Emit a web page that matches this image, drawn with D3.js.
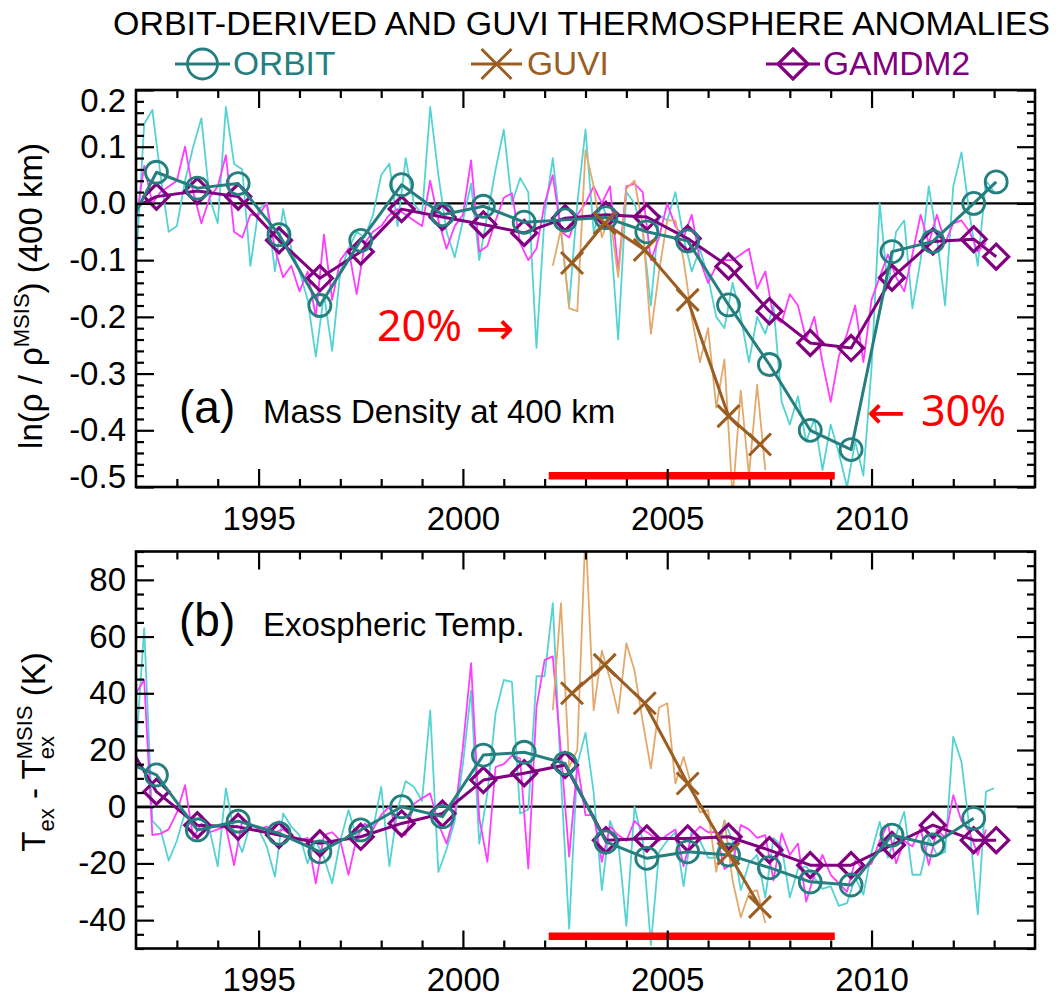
<!DOCTYPE html>
<html>
<head>
<meta charset="utf-8">
<script src="https://cdn.jsdelivr.net/npm/d3@7"></script>
<style>
  body { margin: 0; background: #fff; }
</style>
</head>
<body>
<div id="chart"></div>
<script>
// ---------- data ----------
var xDomain = [1992, 2014];
var yearTicks = [1995, 2000, 2005, 2010];

// yearly means (a) ln(rho / rhoMSIS)
var orbitYearsA = [1991.5, 1992.5, 1993.5, 1994.5, 1995.5, 1996.5, 1997.5, 1998.5, 1999.5, 2000.5, 2001.5,
                   2002.5, 2003.5, 2004.5, 2005.5, 2006.5, 2007.5, 2008.5, 2009.5, 2010.5, 2011.5, 2012.5, 2013.05];
var orbitA = [-0.085, 0.055, 0.027, 0.035, -0.055, -0.18, -0.065, 0.033, -0.02, -0.005, -0.033,
              -0.029, -0.025, -0.05, -0.066, -0.179, -0.284, -0.40, -0.434, -0.085, -0.067, 0.0, 0.038];
var gamdmYearsA = orbitYearsA;
var gamdmA = [-0.023, 0.012, 0.022, 0.012, -0.065, -0.132, -0.085, -0.01, -0.024, -0.037, -0.052,
              -0.026, -0.02, -0.024, -0.062, -0.111, -0.19, -0.246, -0.255, -0.131, -0.067, -0.063, -0.094];
var guviYears = [2002.67, 2003.47, 2004.45, 2005.5, 2006.5, 2007.27];
var guviA = [-0.105, -0.035, -0.082, -0.17, -0.375, -0.425];

// yearly means (b) Tex - TexMSIS
var orbitYearsB = [1991.5, 1992.5, 1993.5, 1994.5, 1995.5, 1996.5, 1997.5, 1998.5, 1999.5, 2000.5, 2001.5,
                   2002.5, 2003.5, 2004.5, 2005.5, 2006.5, 2007.5, 2008.5, 2009.5, 2010.5, 2011.5, 2012.5];
var orbitB = [17.2, 11.2, -8.2, -5.1, -9.4, -15.9, -8.2, 0, -3.5, 18.2, 19.2,
              15.3, -12.4, -18.2, -15.9, -17.0, -21.5, -26.5, -27.6, -10, -13.5, -4.1];
var gamdmYearsB = orbitYearsA;
var gamdmB = [29.4, 5.3, -6.5, -7.1, -10, -12.9, -10.6, -5.9, -2.4, 9.4, 11.8,
              14.7, -11.8, -11.2, -11.2, -10.6, -15.3, -20.6, -20.6, -13.5, -6.5, -11.8, -11.8];
var guviB = [40, 50, 36.5, 8.2, -16.5, -35.3];

// short-interval values (every 0.2 yr)
var rawStep = 0.2;
var rawStart = 1992.0;
var guviRawStart = 2002.2;

var orbitRawA = [
  -0.11, 0.14, 0.165, 0.05, -0.05,
  -0.04, 0.04, 0.10, 0.15, 0.01,
  -0.035, 0.17, 0.07, 0.06, -0.11,
  -0.01, 0.0, -0.12, -0.01, -0.08,
  -0.12, -0.17, -0.27, -0.16, -0.26,
  -0.12, -0.08, -0.05, -0.06, -0.02,
  0.05, 0.07, -0.04, 0.08, 0.0,
  -0.02, 0.17, 0.05, -0.05, -0.095,
  -0.03, 0.035, -0.1, -0.02, 0.06,
  0.13, 0.0, 0.045, 0.02, -0.255,
  -0.02, 0.08, -0.05, -0.18, 0.0,
  0.13, -0.05, 0.0, -0.04, -0.24,
  0.02, 0.0, -0.05, -0.18, -0.02,
  -0.03, 0.02, -0.06, -0.12, -0.08,
  -0.13, -0.2, -0.22, -0.14, -0.2,
  -0.28, -0.2, -0.23, -0.18, -0.35,
  -0.39, -0.34, -0.42, -0.38, -0.47,
  -0.39, -0.44, -0.5, -0.42, -0.48,
  -0.29, 0.0, -0.15, -0.05, -0.03,
  -0.185, -0.1, 0.03, -0.06, -0.18,
  0.03, 0.09, -0.02, -0.11, 0.04,
  0.02];
var gamdmRawA = [
  -0.03, 0.066, 0.0, 0.02, 0.03,
  0.04, 0.10, 0.02, -0.035, 0.01,
  0.03, 0.085, -0.05, -0.06, -0.02,
  -0.02, 0.0, -0.08, -0.13, -0.11,
  -0.155, -0.12, -0.2, -0.055, -0.17,
  -0.1, -0.08, -0.16, -0.07, -0.05,
  -0.04, -0.02, -0.01, -0.02, -0.03,
  -0.04, 0.04, -0.03, -0.08, -0.04,
  -0.02, 0.076, -0.085, -0.075, -0.03,
  0.01, 0.018, -0.07, -0.1, -0.08,
  0.0, 0.05, -0.05, -0.06, -0.02,
  0.0, 0.03, 0.0, 0.03, -0.12,
  0.03, 0.035, 0.02, -0.1, -0.06,
  0.0, -0.04, -0.06, -0.02, -0.1,
  -0.14, -0.11, -0.1, -0.1, -0.09,
  -0.08, -0.15, -0.12, -0.2, -0.21,
  -0.16, -0.18, -0.24, -0.2, -0.28,
  -0.35, -0.27, -0.23, -0.18, -0.28,
  -0.17, -0.13, -0.09, -0.13, -0.155,
  -0.09, -0.02, -0.07, -0.02, -0.07,
  -0.035, -0.03, -0.05, -0.085, -0.07];
var guviRawA = [-0.11, -0.045, -0.185, -0.19, 0.094, 0.03, -0.06, -0.02, -0.13, 0.026,
                0.04, -0.04, -0.23, -0.12, -0.03, -0.03, -0.1, -0.2, -0.28, -0.22,
                -0.36, -0.275, -0.52, -0.33, -0.48, -0.32, -0.47];

var orbitRawB = [
  20, 63, -5, -8, -19,
  -12, -2, -6, -3, -8,
  -21, 6.5, -9, -16, -6,
  -8, -14, -24.7, -2.4, -7,
  -10, -20, -12, -18, -27,
  -12, -1.2, -11, -6, -8,
  7, -21, -1, 9, 7,
  2, 34, -23, -15, -5,
  15, 41, -13, 5, 33,
  44.7, 44, -2.4, -1, 46,
  46, 71.8, 10, -43, 15,
  26, 5, -29.4, -5, -12,
  -42, 0, -12, -48.8, -16,
  -12, -9, -28, -8, -12,
  -18, -18, -5, -12, -29.4,
  -20, -17, -32, -11, -14,
  -32, -22, -21, -25, -29,
  -28, -35, -34, -25, -31,
  -16, -5.3, -18, -10, -1.8,
  -24, -24, -11, -17, -16,
  24.7, 15.9, -8, -38, 5.3,
  6.5];
var gamdmRawB = [
  40, 44.7, -10, -9.5, -8,
  -2, 7.6, -11, -6, -9,
  -8, -7, -20.6, -5, -6,
  -8, -7, -9, -8, -10,
  -12, -11, -27, -10, -9,
  -12, -24, -11, -6, -8,
  -3, 0, -9, -10, 1,
  3, 4.7, -6, -13, -3,
  21, 50.6, -4, -19.4, 14,
  15, 18, 17, -21.8, 35,
  51.8, 53, 19, -17.6, 15,
  -3, -3, -19.4, -7, -10,
  -12, -5, -8, -10, -12,
  -10, -8, -21, -10, -7,
  -9, -9, -22, -20, -6.5,
  -8, -11, -10, -26, -9.4,
  -17, -13, -33.5, -24, -17,
  -24, -27, -30, -19, -22,
  -20, -12, -6, -20, -12,
  -14, -7.6, -20.6, -8, -11,
  4.1, -5, -9, -17, -8];
var guviRawB = [34, 71.8, 14, 20, 97.6, 34, 55, 45, 33, 57.6,
                48, 30, 13.5, 35, 36.5, 8.2, 17.6, 7, -2, -1.2,
                -23, -4.7, -26, -39, -30.5, -29.4, -41];

// red bar (years) and its level in each panel
var barYears = [2002.1, 2009.1];

var tickLabelsA = [0.2, 0.1, 0.0, -0.1, -0.2, -0.3, -0.4, -0.5];
var tickLabelsB = [80, 60, 40, 20, 0, -20, -40];

// ---------- styles ----------
var col = {
  orbit: "#267f7f", orbitRaw: "#55d3d3",
  gamdm: "#800080", gamdmRaw: "#ff3cff",
  guvi: "#9b5e22", guviRaw: "#e3a96c",
  red: "#ff0000"
};
var FONT = "'Liberation Sans', Arial, Helvetica, sans-serif";

var svg = d3.select("#chart")
  .append("svg")
    .attr("width", 1058)
    .attr("height", 997)
    .style("font-family", FONT);

var x = d3.scaleLinear().domain(xDomain).range([136, 1035]);

// title + legend
svg.append("text")
  .attr("x", 113).attr("y", 35)
  .attr("font-size", 34)
  .attr("textLength", 937).attr("lengthAdjust", "spacingAndGlyphs")
  .text("ORBIT-DERIVED AND GUVI THERMOSPHERE ANOMALIES");

var legend = [
  {name: "ORBIT", color: col.orbit, sym: "circle", x0: 175, x1: 230, tx: 233},
  {name: "GUVI", color: col.guvi, sym: "x", x0: 471, x1: 522, tx: 527},
  {name: "GAMDM2", color: col.gamdm, sym: "diamond", x0: 766, x1: 820, tx: 823}
];
legend.forEach(function(d) {
  var cx = (d.x0 + d.x1) / 2, cy = 64;
  svg.append("line").attr("x1", d.x0).attr("x2", d.x1).attr("y1", cy).attr("y2", cy)
    .attr("stroke", d.color).attr("stroke-width", 3);
  drawMarker(svg, d.sym, cx, cy, 15, d.color);
  svg.append("text").attr("x", d.tx).attr("y", 75).attr("font-size", 33.5)
    .attr("fill", d.color).text(d.name);
});

function drawMarker(sel, sym, cx, cy, s, color) {
  if (sym === "circle") {
    sel.append("circle").attr("cx", cx).attr("cy", cy).attr("r", s)
      .attr("fill", "none").attr("stroke", color).attr("stroke-width", 2.8);
  } else if (sym === "diamond") {
    sel.append("path")
      .attr("d", "M" + cx + "," + (cy - s) + "L" + (cx + s) + "," + cy + "L" + cx + "," + (cy + s) + "L" + (cx - s) + "," + cy + "Z")
      .attr("fill", "none").attr("stroke", color).attr("stroke-width", 3.2);
  } else {
    sel.append("path")
      .attr("d", "M" + (cx - s) + "," + (cy - s) + "L" + (cx + s) + "," + (cy + s) + "M" + (cx - s) + "," + (cy + s) + "L" + (cx + s) + "," + (cy - s))
      .attr("stroke", color).attr("stroke-width", 3);
  }
}

makePanel({
  id: "a", top: 90, bottom: 487, yDomain: [-0.5, 0.2],
  ticks: tickLabelsA, minor: d3.range(-25, 11).map(function(i) { return i * 0.02; }),
  fmt: function(d) { return d.toFixed(1); },
  xPad: 20,
  orbitRaw: orbitRawA, gamdmRaw: gamdmRawA, guviRaw: guviRawA,
  orbitYears: orbitYearsA, orbit: orbitA, gamdmYears: gamdmYearsA, gamdm: gamdmA, guvi: guviA,
  barLevel: -0.48
});

makePanel({
  id: "b", top: 551.5, bottom: 948.5, yDomain: [-50, 90],
  ticks: tickLabelsB, minor: d3.range(-10, 19).map(function(i) { return i * 5; }),
  fmt: function(d) { return String(d); },
  xPad: 19,
  orbitRaw: orbitRawB, gamdmRaw: gamdmRawB, guviRaw: guviRawB,
  orbitYears: orbitYearsB, orbit: orbitB, gamdmYears: gamdmYearsB, gamdm: gamdmB, guvi: guviB,
  barLevel: -45.7
});

function makePanel(p) {
  var y = d3.scaleLinear().domain(p.yDomain).range([p.bottom, p.top]);
  var left = x.range()[0], right = x.range()[1];
  var g = svg.append("g");

  g.append("clipPath").attr("id", "clip-" + p.id)
    .append("rect")
      .attr("x", left).attr("y", p.top)
      .attr("width", right - left).attr("height", p.bottom - p.top);

  // zero line
  g.append("line")
    .attr("x1", left).attr("x2", right)
    .attr("y1", y(0)).attr("y2", y(0))
    .attr("stroke", "#000").attr("stroke-width", 2.2);

  var plot = g.append("g").attr("clip-path", "url(#clip-" + p.id + ")");
  var line = d3.line().x(function(d) { return x(d.t); }).y(function(d) { return y(d.v); });

  function thin(start, vals, color) {
    var pts = vals.map(function(v, i) { return {t: start + i * rawStep, v: v}; });
    plot.append("path").datum(pts)
      .attr("d", line).attr("fill", "none")
      .attr("stroke", color).attr("stroke-width", 1.8)
      .attr("stroke-linejoin", "round");
  }
  thin(rawStart, p.orbitRaw, col.orbitRaw);
  thin(rawStart, p.gamdmRaw, col.gamdmRaw);
  thin(guviRawStart, p.guviRaw, col.guviRaw);

  function thick(years, vals, color, sym, size) {
    var pts = vals.map(function(v, i) { return {t: years[i], v: v}; });
    plot.append("path").datum(pts)
      .attr("d", line).attr("fill", "none")
      .attr("stroke", color).attr("stroke-width", 3)
      .attr("stroke-linejoin", "round");
    pts.forEach(function(d) { drawMarker(plot, sym, x(d.t), y(d.v), size, color); });
  }
  thick(p.gamdmYears, p.gamdm, col.gamdm, "diamond", 12.5);
  thick(p.orbitYears, p.orbit, col.orbit, "circle", 11);
  thick(guviYears, p.guvi, col.guvi, "x", 11);

  // red bar
  g.append("line")
    .attr("x1", x(barYears[0])).attr("x2", x(barYears[1]))
    .attr("y1", y(p.barLevel)).attr("y2", y(p.barLevel))
    .attr("stroke", col.red).attr("stroke-width", 7.5);

  // axes, all ticks pointing inward
  var minorYears = d3.range(1993, 2014).filter(function(d) { return yearTicks.indexOf(d) < 0; });
  var minorY = p.minor.filter(function(d) {
    return !p.ticks.some(function(t) { return Math.abs(t - d) < 1e-9; });
  });

  function styleAxis(a) {
    a.select(".domain").remove();
    a.selectAll(".tick line").attr("stroke", "#000").attr("stroke-width", 2.2);
    a.attr("font-size", 33).attr("font-family", FONT);
  }

  g.append("g").attr("transform", "translate(0," + p.bottom + ")")
    .call(d3.axisBottom(x).tickValues(yearTicks).tickSize(-18).tickPadding(p.xPad).tickFormat(d3.format("d")))
    .call(styleAxis);
  g.append("g").attr("transform", "translate(0," + p.bottom + ")")
    .call(d3.axisBottom(x).tickValues(minorYears).tickSize(-8).tickFormat(""))
    .call(styleAxis);
  g.append("g").attr("transform", "translate(0," + p.top + ")")
    .call(d3.axisTop(x).tickValues(yearTicks).tickSize(-18).tickFormat(""))
    .call(styleAxis);
  g.append("g").attr("transform", "translate(0," + p.top + ")")
    .call(d3.axisTop(x).tickValues(minorYears).tickSize(-8).tickFormat(""))
    .call(styleAxis);

  var yl = g.append("g").attr("transform", "translate(" + left + ",0)")
    .call(d3.axisLeft(y).tickValues(p.ticks).tickSize(-18).tickPadding(10).tickFormat(p.fmt))
    .call(styleAxis);
  // keep the end labels inside the frame
  yl.selectAll(".tick text").attr("y", function(d) {
    var yy = y(d);
    var c = Math.min(Math.max(yy, p.top + 10.5), p.bottom - 10);
    return c - yy;
  });
  g.append("g").attr("transform", "translate(" + left + ",0)")
    .call(d3.axisLeft(y).tickValues(minorY).tickSize(-8).tickFormat(""))
    .call(styleAxis);
  g.append("g").attr("transform", "translate(" + right + ",0)")
    .call(d3.axisRight(y).tickValues(p.ticks).tickSize(-18).tickFormat(""))
    .call(styleAxis);
  g.append("g").attr("transform", "translate(" + right + ",0)")
    .call(d3.axisRight(y).tickValues(minorY).tickSize(-8).tickFormat(""))
    .call(styleAxis);

  // frame
  g.append("rect")
    .attr("x", left).attr("y", p.top)
    .attr("width", right - left).attr("height", p.bottom - p.top)
    .attr("fill", "none").attr("stroke", "#000").attr("stroke-width", 2.6);
}

// panel labels
svg.append("text").attr("x", 179).attr("y", 423).attr("font-size", 46).text("(a)");
svg.append("text").attr("x", 263).attr("y", 423).attr("font-size", 33).text("Mass Density at 400 km");
svg.append("text").attr("x", 179).attr("y", 636).attr("font-size", 46).text("(b)");
svg.append("text").attr("x", 263).attr("y", 636).attr("font-size", 33).text("Exospheric Temp.");

// red notes
svg.append("text").attr("x", 377).attr("y", 341).attr("font-size", 43)
  .attr("font-family", "'Noto Sans', sans-serif").attr("fill", col.red).text("20%");
svg.append("text").attr("x", 476).attr("y", 344).attr("font-size", 46)
  .attr("font-family", "'DejaVu Sans', sans-serif").attr("fill", col.red).text("\u2192");
svg.append("text").attr("x", 921).attr("y", 426).attr("font-size", 43)
  .attr("font-family", "'Noto Sans', sans-serif").attr("fill", col.red).text("30%");
svg.append("text").attr("x", 867).attr("y", 428).attr("font-size", 46)
  .attr("font-family", "'DejaVu Sans', sans-serif").attr("fill", col.red).text("\u2190");

// y axis titles
var ya = svg.append("text")
  .attr("transform", "translate(42,296) rotate(-90)")
  .attr("text-anchor", "middle").attr("font-size", 33);
ya.append("tspan").text("ln(\u03c1 / \u03c1");
ya.append("tspan").attr("font-size", 22).attr("dy", -13).text("MSIS");
ya.append("tspan").attr("dy", 13).text(") (400 km)");

var probe = svg.append("text").attr("font-size", 22).text("ex");
var exW = probe.node().getComputedTextLength();
probe.remove();

var yb = svg.append("text")
  .attr("transform", "translate(45,752) rotate(-90)")
  .attr("text-anchor", "middle").attr("font-size", 33);
yb.append("tspan").text("T");
yb.append("tspan").attr("font-size", 22).attr("dy", 9).text("ex");
yb.append("tspan").attr("dy", -9).text(" - T");
yb.append("tspan").attr("font-size", 22).attr("dy", 9).text("ex");
yb.append("tspan").attr("font-size", 22).attr("dx", -exW).attr("dy", -22).text("MSIS");
yb.append("tspan").attr("dy", 13).text(" (K)");
</script>
</body>
</html>
